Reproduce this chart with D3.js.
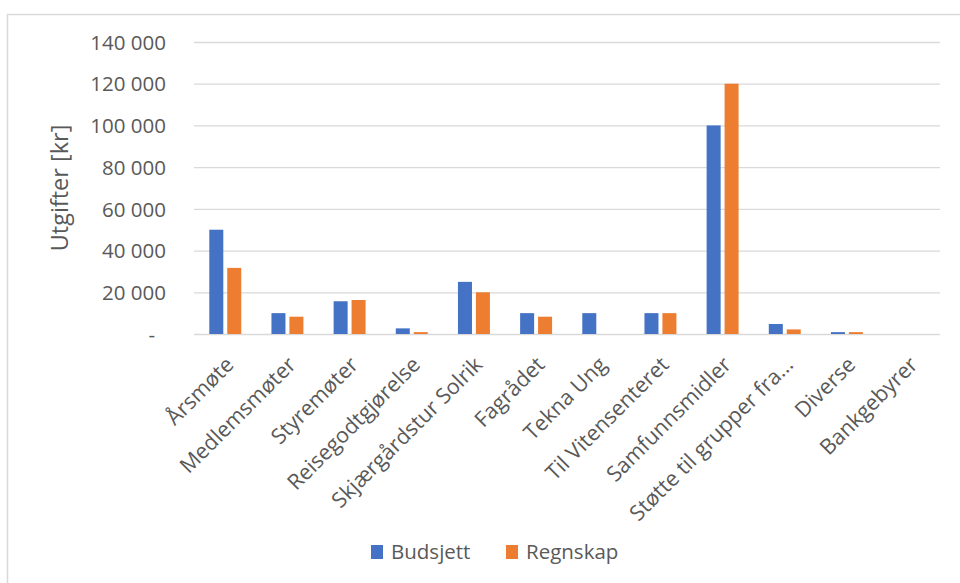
<!DOCTYPE html>
<html>
<head>
<meta charset="utf-8">
<script src="https://cdn.jsdelivr.net/npm/d3@7"></script>
<style>
  body { margin: 0; background: #fff; }
  text { font-family: "Open Sans", sans-serif; fill: #595959; }
</style>
</head>
<body>
<div id="chart"></div>
<script>
// data
const categories = ["Årsmøte", "Medlemsmøter", "Styremøter", "Reisegodtgjørelse",
  "Skjærgårdstur Solrik", "Fagrådet", "Tekna Ung", "Til Vitensenteret",
  "Samfunnsmidler", "Støtte til grupper fra...", "Diverse", "Bankgebyrer"];
const series = ["Budsjett", "Regnskap"];
const budsjett = [50000, 10000, 15700, 2700, 25000, 10000, 10000, 10000, 100000, 4800, 900, 0];
const regnskap = [31700, 8300, 16300, 900, 20000, 8300, 0, 10000, 120000, 2200, 900, 0];
const yTicks = [0, 20000, 40000, 60000, 80000, 100000, 120000, 140000];

const colors = { Budsjett: "#4472c4", Regnskap: "#ed7d31" };

const W = 960, H = 583;
const margin = { top: 42, left: 194, right: 20, bottom: 249 };
const width = W - margin.left - margin.right;
const height = H - margin.top - margin.bottom;

const svg = d3.select("#chart").append("svg")
    .attr("width", W)
    .attr("height", H);

// outer frame (runs off the right and bottom edges)
svg.append("rect")
    .attr("x", 7.5).attr("y", 14.5)
    .attr("width", 1000).attr("height", 1000)
    .attr("fill", "none")
    .attr("stroke", "#d9d9d9")
    .attr("stroke-width", 1.5);

const g = svg.append("g").attr("transform", `translate(${margin.left},${margin.top})`);

const rows = categories.map((c, i) => ({ name: c, Budsjett: budsjett[i], Regnskap: regnskap[i] }));

const x0 = d3.scaleBand().domain(categories).range([0, width]);
const x1 = d3.scaleBand().domain(series)
    .range([x0.step() * 0.246, x0.step() * 0.76])
    .paddingInner(0.22);
const y = d3.scaleLinear().domain([0, 140000]).range([height, 0]);

const fmt = (v) => v === 0 ? "-" : d3.format(",")(v).replace(/,/g, " ");

// gridlines + tick labels
const yaxis = d3.axisLeft(y).tickValues(yTicks).tickSize(-width).tickPadding(0).tickFormat(fmt);
const gy = g.append("g").attr("class", "y axis").call(yaxis);
gy.select(".domain").remove();
gy.selectAll(".tick line")
    .attr("stroke", "#d9d9d9")
    .attr("stroke-width", (d) => d === 0 ? 1.6 : 1.3);
gy.selectAll(".tick text")
    .attr("x", (d) => d === 0 ? -39 : -28)
    .attr("dy", "0.35em")
    .style("font-size", "20.5px")
    .style("fill", "#595959");

// bars
const groups = g.selectAll(".grp")
    .data(rows)
    .join("g")
    .attr("class", "grp")
    .attr("transform", (d) => `translate(${x0(d.name)},0)`);

groups.selectAll("rect")
    .data((d) => series.map((s) => ({ key: s, value: d[s] })))
    .join("rect")
    .attr("x", (d) => x1(d.key))
    .attr("width", x1.bandwidth())
    .attr("y", (d) => y(d.value))
    .attr("height", (d) => height - y(d.value))
    .attr("fill", (d) => colors[d.key]);

// x labels, rotated -45
g.append("g").attr("class", "x labels")
    .selectAll("text")
    .data(categories)
    .join("text")
    .attr("transform", (d) => `translate(${x0(d) + x0.bandwidth() / 2 + 10},${height + 32}) rotate(-45)`)
    .attr("text-anchor", "end")
    .style("font-size", "21.5px")
    .text((d) => d);

// y title
svg.append("text")
    .attr("transform", "translate(68,188) rotate(-90)")
    .attr("text-anchor", "middle")
    .style("font-size", "23.5px")
    .text("Utgifter [kr]");

// legend
const legend = svg.append("g").attr("class", "legend");
const legendX = [371, 506];
series.forEach((s, i) => {
    legend.append("rect")
        .attr("x", legendX[i]).attr("y", 545)
        .attr("width", 12).attr("height", 14)
        .attr("fill", colors[s]);
    legend.append("text")
        .attr("x", legendX[i] + 20).attr("y", 559)
        .style("font-size", "20.5px")
        .text(s);
});
</script>
</body>
</html>
